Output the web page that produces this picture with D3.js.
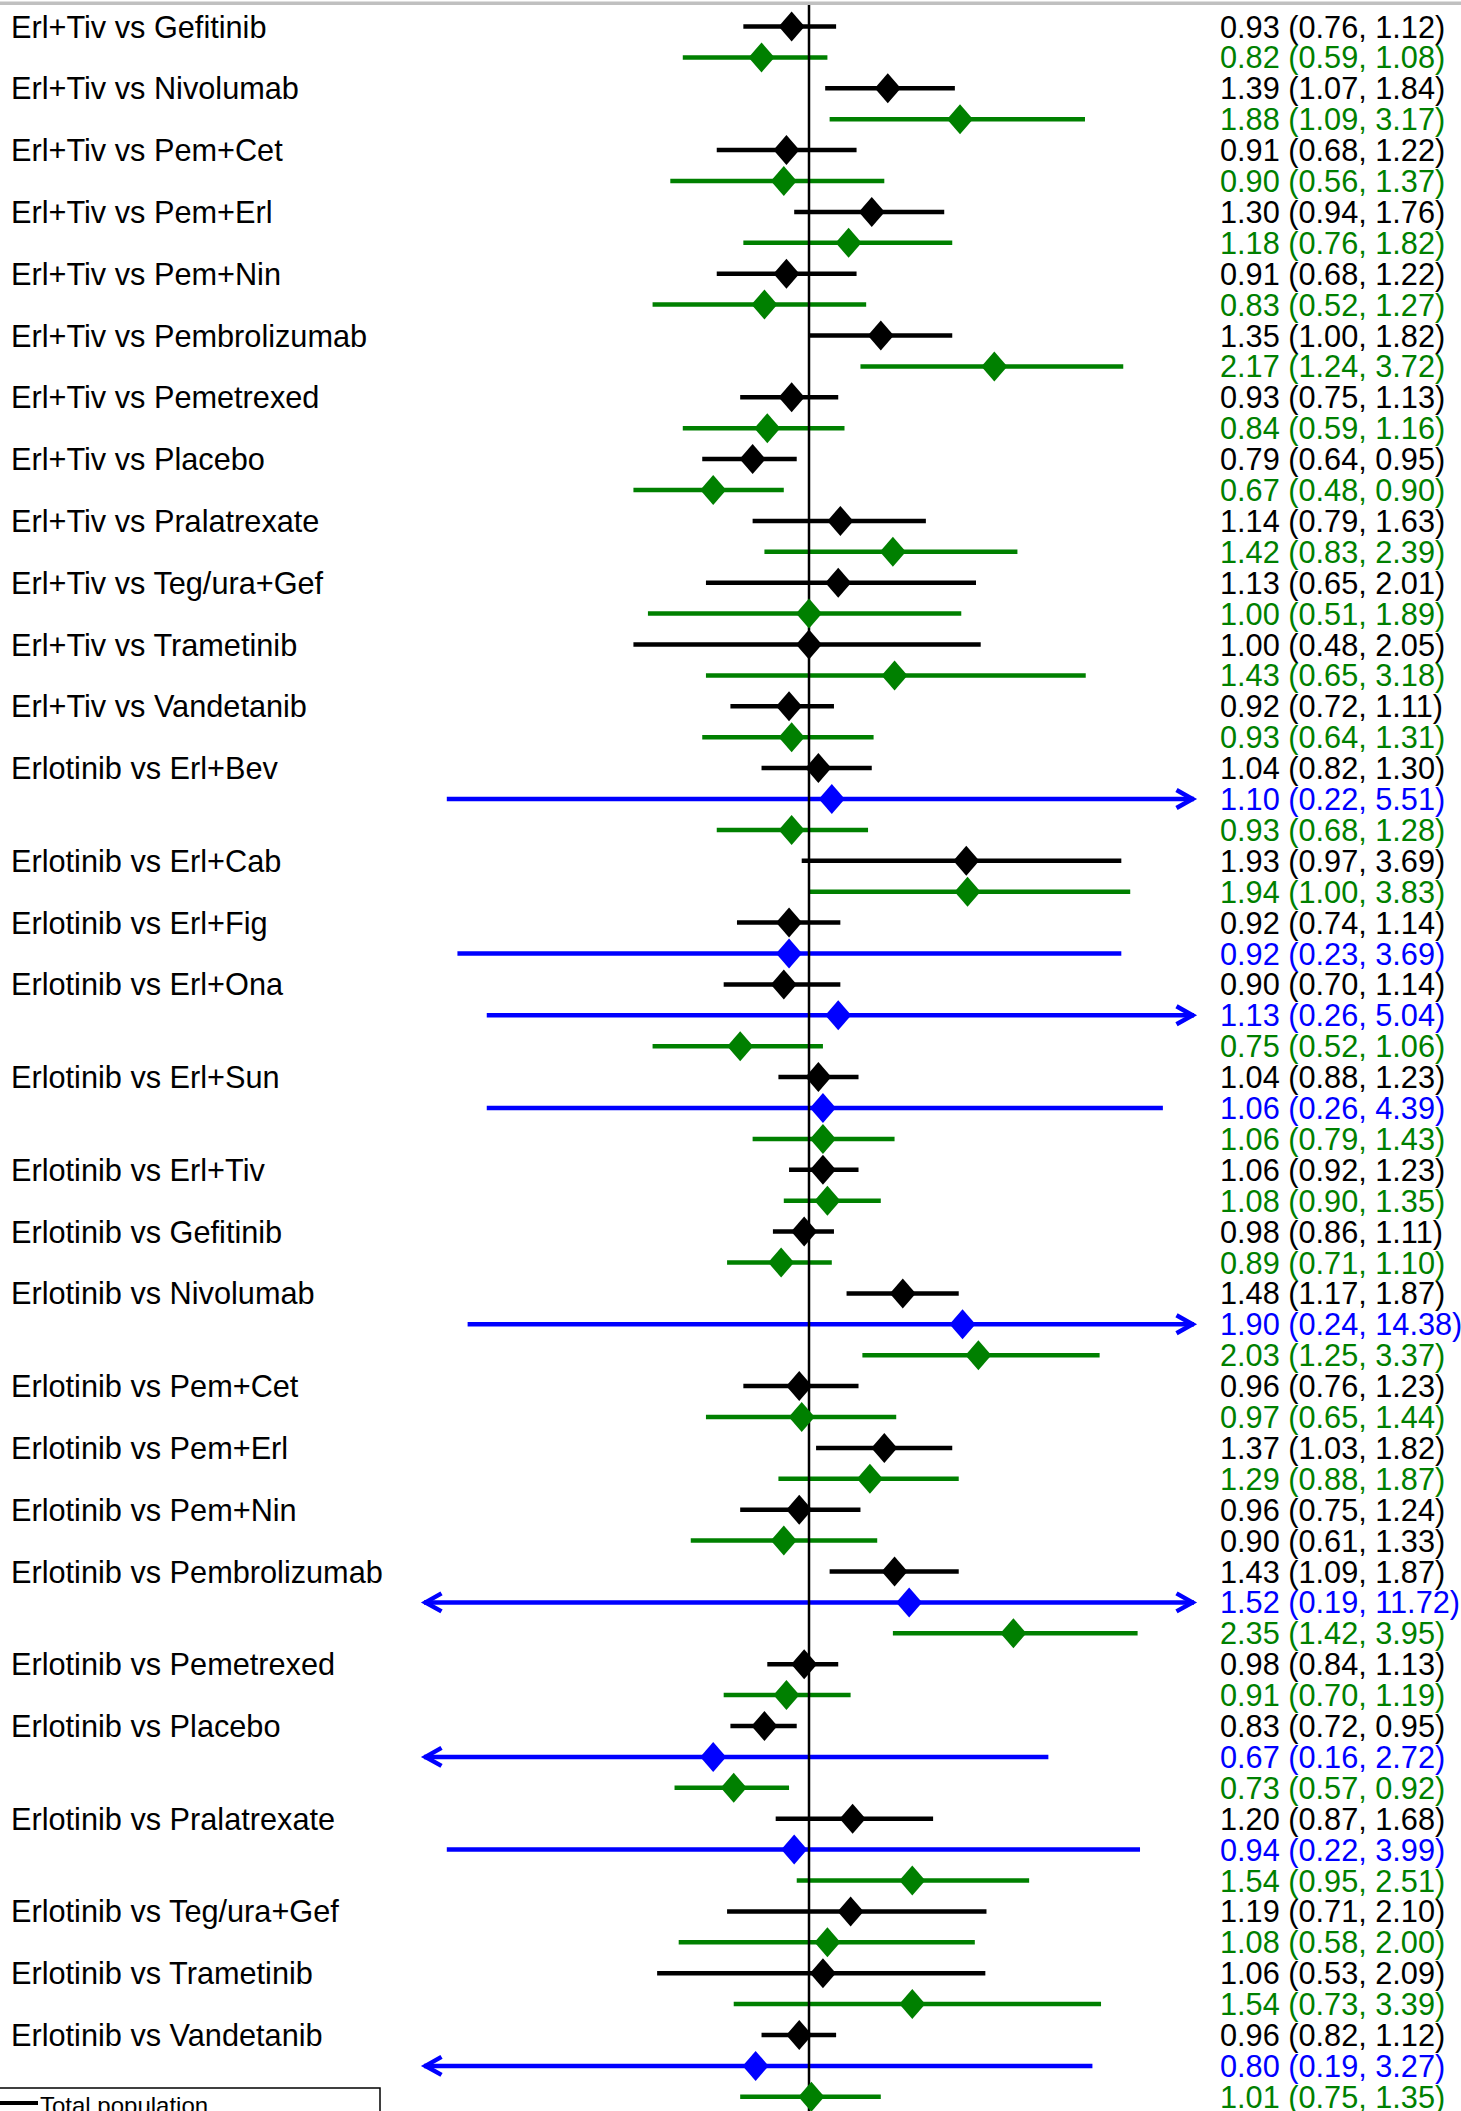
<!DOCTYPE html>
<html>
<head>
<meta charset="utf-8">
<script src="https://cdn.jsdelivr.net/npm/d3@7"></script>
<style>
  html, body { margin: 0; padding: 0; background: #fff; overflow: hidden; }
  svg { display: block; }
</style>
</head>
<body>
<div id="chart"></div>
<script>
// ---------------- DATA ----------------
const comparisons = [
  "Erl+Tiv vs Gefitinib", "Erl+Tiv vs Nivolumab", "Erl+Tiv vs Pem+Cet", "Erl+Tiv vs Pem+Erl",
  "Erl+Tiv vs Pem+Nin", "Erl+Tiv vs Pembrolizumab", "Erl+Tiv vs Pemetrexed", "Erl+Tiv vs Placebo",
  "Erl+Tiv vs Pralatrexate", "Erl+Tiv vs Teg/ura+Gef", "Erl+Tiv vs Trametinib", "Erl+Tiv vs Vandetanib",
  "Erlotinib vs Erl+Bev", "Erlotinib vs Erl+Cab", "Erlotinib vs Erl+Fig", "Erlotinib vs Erl+Ona",
  "Erlotinib vs Erl+Sun", "Erlotinib vs Erl+Tiv", "Erlotinib vs Gefitinib", "Erlotinib vs Nivolumab",
  "Erlotinib vs Pem+Cet", "Erlotinib vs Pem+Erl", "Erlotinib vs Pem+Nin", "Erlotinib vs Pembrolizumab",
  "Erlotinib vs Pemetrexed", "Erlotinib vs Placebo", "Erlotinib vs Pralatrexate", "Erlotinib vs Teg/ura+Gef",
  "Erlotinib vs Trametinib", "Erlotinib vs Vandetanib"
];

// Total population (black)
const totalEst  = [0.93,1.39,0.91,1.30,0.91,1.35,0.93,0.79,1.14,1.13,1.00,0.92,
                   1.04,1.93,0.92,0.90,1.04,1.06,0.98,1.48,0.96,1.37,0.96,1.43,0.98,0.83,1.20,1.19,1.06,0.96];
const totalLow  = [0.76,1.07,0.68,0.94,0.68,1.00,0.75,0.64,0.79,0.65,0.48,0.72,
                   0.82,0.97,0.74,0.70,0.88,0.92,0.86,1.17,0.76,1.03,0.75,1.09,0.84,0.72,0.87,0.71,0.53,0.82];
const totalHigh = [1.12,1.84,1.22,1.76,1.22,1.82,1.13,0.95,1.63,2.01,2.05,1.11,
                   1.30,3.69,1.14,1.14,1.23,1.23,1.11,1.87,1.23,1.82,1.24,1.87,1.13,0.95,1.68,2.10,2.09,1.12];

// Subgroup shown in blue (only some comparisons)
const blueEst  = [null,null,null,null,null,null,null,null,null,null,null,null,
                  1.10,null,0.92,1.13,1.06,null,null,1.90,null,null,null,1.52,null,0.67,0.94,null,null,0.80];
const blueLow  = [null,null,null,null,null,null,null,null,null,null,null,null,
                  0.22,null,0.23,0.26,0.26,null,null,0.24,null,null,null,0.19,null,0.16,0.22,null,null,0.19];
const blueHigh = [null,null,null,null,null,null,null,null,null,null,null,null,
                  5.51,null,3.69,5.04,4.39,null,null,14.38,null,null,null,11.72,null,2.72,3.99,null,null,3.27];

// Subgroup shown in green
const greenEst  = [0.82,1.88,0.90,1.18,0.83,2.17,0.84,0.67,1.42,1.00,1.43,0.93,
                   0.93,1.94,null,0.75,1.06,1.08,0.89,2.03,0.97,1.29,0.90,2.35,0.91,0.73,1.54,1.08,1.54,1.01];
const greenLow  = [0.59,1.09,0.56,0.76,0.52,1.24,0.59,0.48,0.83,0.51,0.65,0.64,
                   0.68,1.00,null,0.52,0.79,0.90,0.71,1.25,0.65,0.88,0.61,1.42,0.70,0.57,0.95,0.58,0.73,0.75];
const greenHigh = [1.08,3.17,1.37,1.82,1.27,3.72,1.16,0.90,2.39,1.89,3.18,1.31,
                   1.28,3.83,null,1.06,1.43,1.35,1.10,3.37,1.44,1.87,1.33,3.95,1.19,0.92,2.51,2.00,3.39,1.35];

// Axis range of the plot (ratio scale) and reference value
const axisDomain = [0.2, 5];
const refValue = 1;
const legendLabels = ["Total population"];
// text of this (comparison, series) is printed black in the original
const blackTextExceptions = ["Erlotinib vs Pem+Nin|green"];

// ---------------- LAYOUT / STYLE ----------------
const W = 1461, H = 2111;
const colors = { total: "#000000", blue: "#0000ff", green: "#008000" };
const FONT = "'Liberation Sans', Arial, Helvetica, sans-serif";
const FS = 30.7;

// build sub-rows
const rows = [];
comparisons.forEach((c, i) => {
  rows.push({ id: c + "|total", comp: c, first: true, series: "total", est: totalEst[i], lo: totalLow[i], hi: totalHigh[i] });
  if (blueEst[i] != null) rows.push({ id: c + "|blue", comp: c, first: false, series: "blue", est: blueEst[i], lo: blueLow[i], hi: blueHigh[i] });
  if (greenEst[i] != null) rows.push({ id: c + "|green", comp: c, first: false, series: "green", est: greenEst[i], lo: greenLow[i], hi: greenHigh[i] });
});

const x = d3.scaleLog().domain(axisDomain).range([424, 1194]);
const y = d3.scalePoint().domain(rows.map(r => r.id)).range([26.5, 2096.8]);
const fmt = d3.format(".2f");

const svg = d3.select("#chart").append("svg").attr("width", W).attr("height", H)
  .style("font-family", FONT);

svg.append("rect").attr("width", W).attr("height", H).attr("fill", "#fff");

// top gray border
svg.append("rect").attr("x", 0).attr("y", 1.5).attr("width", W).attr("height", 3.5).attr("fill", "#c0c0c0");

// comparison labels
svg.append("g").selectAll("text").data(rows.filter(r => r.first)).join("text")
  .attr("x", 11).attr("y", d => y(d.id)).attr("dy", "0.36em")
  .attr("font-size", FS).attr("fill", "#000").text(d => d.comp);

// CI lines
const [dmin, dmax] = axisDomain;
const ci = svg.append("g");
ci.selectAll("line").data(rows).join("line")
  .attr("x1", d => x(Math.max(d.lo, dmin)))
  .attr("x2", d => x(Math.min(d.hi, dmax)))
  .attr("y1", d => y(d.id)).attr("y2", d => y(d.id))
  .attr("stroke", d => colors[d.series]).attr("stroke-width", 4.5);

// arrowheads where CI leaves the axis range
const arrows = [];
rows.forEach(r => {
  if (r.lo < dmin) arrows.push({ r, dir: -1, xv: dmin });
  if (r.hi > dmax) arrows.push({ r, dir: 1, xv: dmax });
});
ci.selectAll("path.arrow").data(arrows).join("path").attr("class", "arrow")
  .attr("d", a => {
    const tx = x(a.xv) - a.dir * 1.5, ty = y(a.r.id);
    const bx = tx - a.dir * 16;
    return `M${bx},${ty - 9}L${tx},${ty}L${bx},${ty + 9}`;
  })
  .attr("fill", "none").attr("stroke", a => colors[a.r.series]).attr("stroke-width", 4.5)
  .attr("stroke-linejoin", "miter").attr("stroke-linecap", "butt");

// reference line
svg.append("line").attr("x1", x(refValue)).attr("x2", x(refValue))
  .attr("y1", 5).attr("y2", H).attr("stroke", "#000").attr("stroke-width", 2.5);

// diamonds
svg.append("g").selectAll("path").data(rows).join("path")
  .attr("d", d => {
    const cx = x(d.est), cy = y(d.id), hw = 13, hh = 15;
    return `M${cx},${cy - hh}L${cx + hw},${cy}L${cx},${cy + hh}L${cx - hw},${cy}Z`;
  })
  .attr("fill", d => colors[d.series]);

// estimate text
svg.append("g").selectAll("text").data(rows).join("text")
  .attr("x", 1220).attr("y", d => y(d.id)).attr("dy", "0.36em")
  .attr("font-size", FS)
  .attr("fill", d => blackTextExceptions.includes(d.id) ? "#000" : colors[d.series])
  .text(d => `${fmt(d.est)} (${fmt(d.lo)}, ${fmt(d.hi)})`);

// legend (cut at bottom edge)
const lg = svg.append("g");
lg.append("rect").attr("x", -2).attr("y", 2088).attr("width", 382).attr("height", 60)
  .attr("fill", "#fff").attr("stroke", "#000").attr("stroke-width", 1.5);
lg.append("line").attr("x1", 0).attr("x2", 38).attr("y1", 2103).attr("y2", 2103)
  .attr("stroke", colors.total).attr("stroke-width", 4);
lg.append("text").attr("x", 40).attr("y", 2114).attr("font-size", 24).attr("fill", "#000")
  .text(legendLabels[0]);
</script>
</body>
</html>
